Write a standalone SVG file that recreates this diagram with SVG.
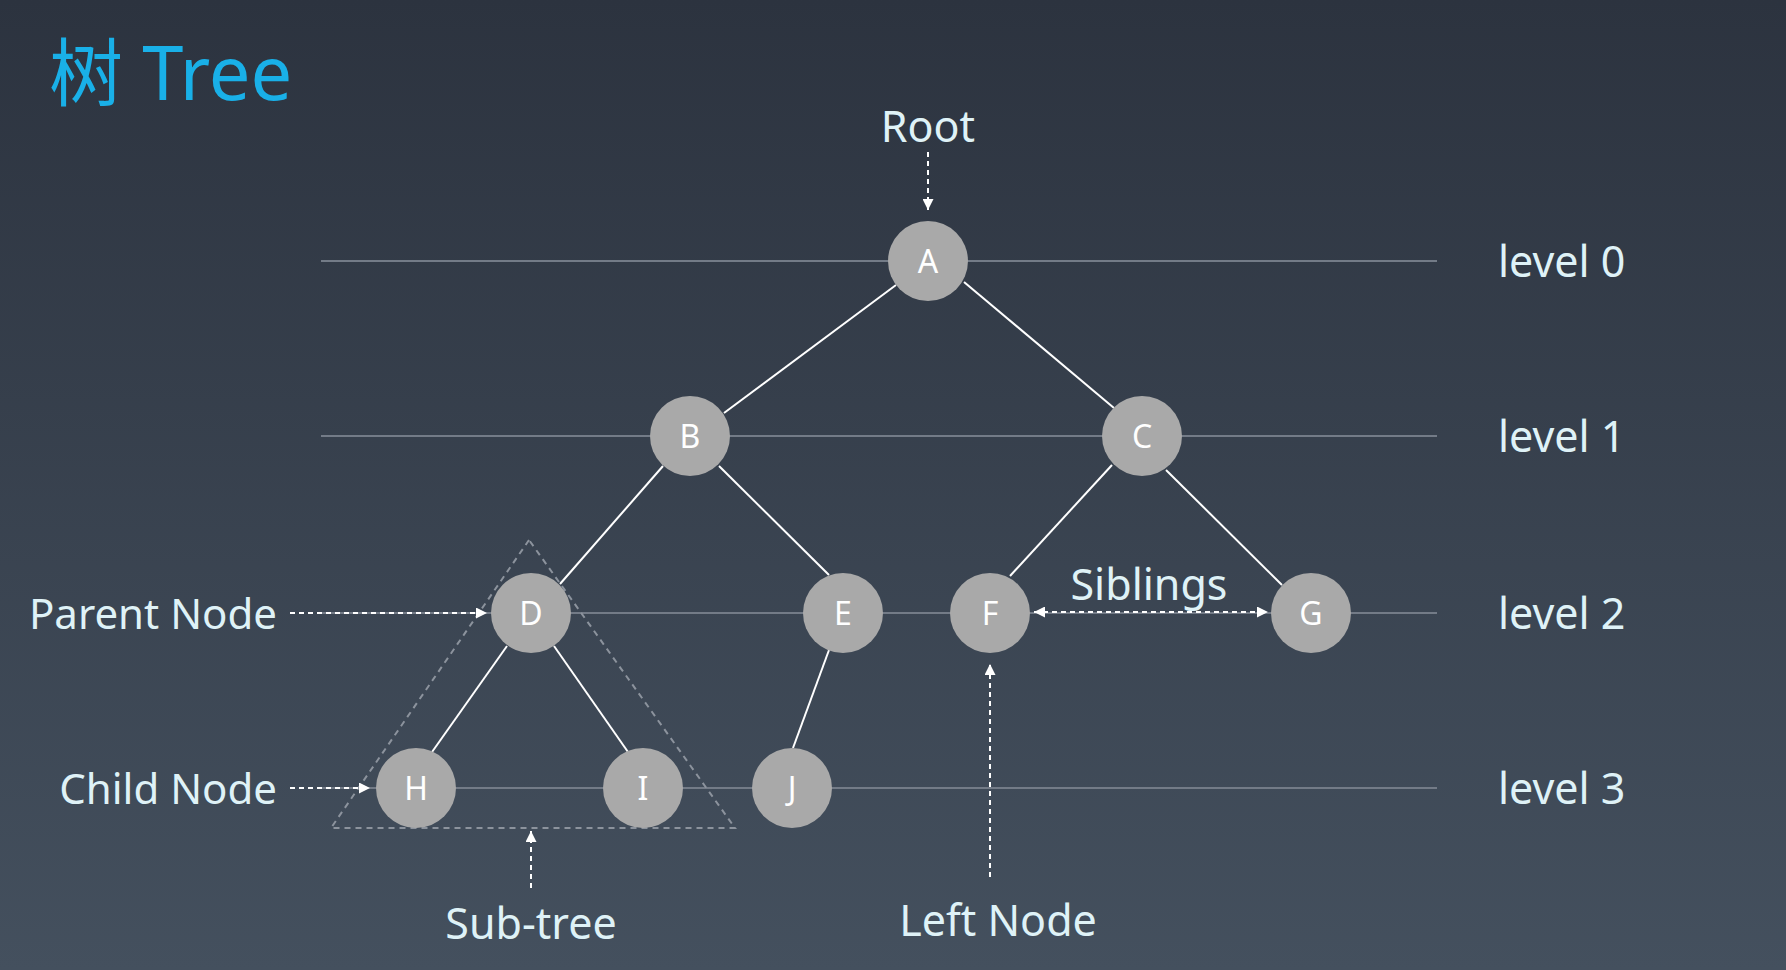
<svg xmlns="http://www.w3.org/2000/svg" width="1786" height="970" viewBox="0 0 1786 970">
<defs>
<linearGradient id="bg" x1="0" y1="0" x2="0" y2="1">
<stop offset="0" stop-color="#2c333f"/>
<stop offset="1" stop-color="#44505e"/>
</linearGradient>
<marker id="ah" viewBox="0 0 10 10" refX="10" refY="5" markerWidth="11" markerHeight="11" markerUnits="userSpaceOnUse" orient="auto-start-reverse">
<path d="M0,0 L10,5 L0,10 z" fill="#ffffff"/>
</marker>
<style>
.lvl{stroke:#737b87;stroke-width:2}
.edge{stroke:#ffffff;stroke-width:2}
.ptr{stroke:#ffffff;stroke-width:2;stroke-dasharray:5 4;fill:none}
.node circle{fill:#a9a9a9}
.node text{fill:#ffffff;font-family:"Noto Sans",sans-serif;font-size:32px;text-anchor:middle}
.lbl{fill:#dff2f7;font-family:"Noto Sans",sans-serif;font-size:43px}
.lbl.sm{font-size:42px}
.sub{stroke:#8c939d;stroke-width:2;stroke-dasharray:6 5;fill:none}
</style>
</defs>
<rect width="1786" height="970" fill="url(#bg)"/>
<text x="49" y="100" fill="#19b0e8" font-family="Noto Sans, Noto Sans CJK SC, sans-serif" font-size="74">树 Tree</text>
<g id="levels">
<line class="lvl" x1="321" y1="261" x2="1437" y2="261"/>
<line class="lvl" x1="321" y1="436" x2="1437" y2="436"/>
<line class="lvl" x1="321" y1="613" x2="1437" y2="613"/>
<line class="lvl" x1="321" y1="788" x2="1437" y2="788"/>
<text class="lbl" x="1498" y="277">level 0</text>
<text class="lbl" x="1498" y="452">level 1</text>
<text class="lbl" x="1498" y="629">level 2</text>
<text class="lbl" x="1498" y="804">level 3</text>
</g>
<g id="connectors">
<line class="edge" x1="896" y1="285" x2="724" y2="413"/>
<line class="edge" x1="964" y1="282" x2="1114" y2="408"/>
<line class="edge" x1="663" y1="466" x2="560" y2="584"/>
<line class="edge" x1="719" y1="466" x2="829" y2="575"/>
<line class="edge" x1="1112" y1="465" x2="1010" y2="576"/>
<line class="edge" x1="1166" y1="470" x2="1282" y2="585"/>
<line class="edge" x1="507" y1="646" x2="432" y2="752"/>
<line class="edge" x1="554" y1="646" x2="628" y2="752"/>
<line class="edge" x1="829" y1="650" x2="793" y2="748"/>
</g>
<g id="subtree">
<polygon class="sub" points="529,540 331,828 735,828"/>
</g>
<g id="nodeA" class="node"><circle cx="928" cy="261" r="40"/><text x="928" y="272.5">A</text></g>
<g id="nodeB" class="node"><circle cx="690" cy="436" r="40"/><text x="690" y="447.5">B</text></g>
<g id="nodeC" class="node"><circle cx="1142" cy="436" r="40"/><text x="1142" y="447.5">C</text></g>
<g id="nodeD" class="node"><circle cx="531" cy="613" r="40"/><text x="531" y="624.5">D</text></g>
<g id="nodeE" class="node"><circle cx="843" cy="613" r="40"/><text x="843" y="624.5">E</text></g>
<g id="nodeF" class="node"><circle cx="990" cy="613" r="40"/><text x="990" y="624.5">F</text></g>
<g id="nodeG" class="node"><circle cx="1311" cy="613" r="40"/><text x="1311" y="624.5">G</text></g>
<g id="nodeH" class="node"><circle cx="416" cy="788" r="40"/><text x="416" y="799.5">H</text></g>
<g id="nodeI" class="node"><circle cx="643" cy="788" r="40"/><text x="643" y="799.5">I</text></g>
<g id="nodeJ" class="node"><circle cx="792" cy="788" r="40"/><text x="792" y="799.5">J</text></g>
<g id="annotations">
<line class="ptr" x1="928" y1="152" x2="928" y2="210" marker-end="url(#ah)"/>
<line class="ptr" x1="290" y1="613" x2="487" y2="613" marker-end="url(#ah)"/>
<line class="ptr" x1="290" y1="788" x2="370" y2="788" marker-end="url(#ah)"/>
<line class="ptr" x1="531" y1="888" x2="531" y2="831" marker-end="url(#ah)"/>
<line class="ptr" x1="1034" y1="612" x2="1268" y2="612" marker-start="url(#ah)" marker-end="url(#ah)"/>
<line class="ptr" x1="990" y1="877" x2="990" y2="664" marker-end="url(#ah)"/>
<text class="lbl" x="928" y="142" text-anchor="middle">Root</text>
<text class="lbl sm" x="277" y="629" text-anchor="end">Parent Node</text>
<text class="lbl sm" x="277" y="804" text-anchor="end">Child Node</text>
<text class="lbl" x="531" y="939" text-anchor="middle">Sub-tree</text>
<text class="lbl" x="1149" y="600" text-anchor="middle">Siblings</text>
<text class="lbl" x="998" y="936" text-anchor="middle">Left Node</text>
</g>
</svg>
